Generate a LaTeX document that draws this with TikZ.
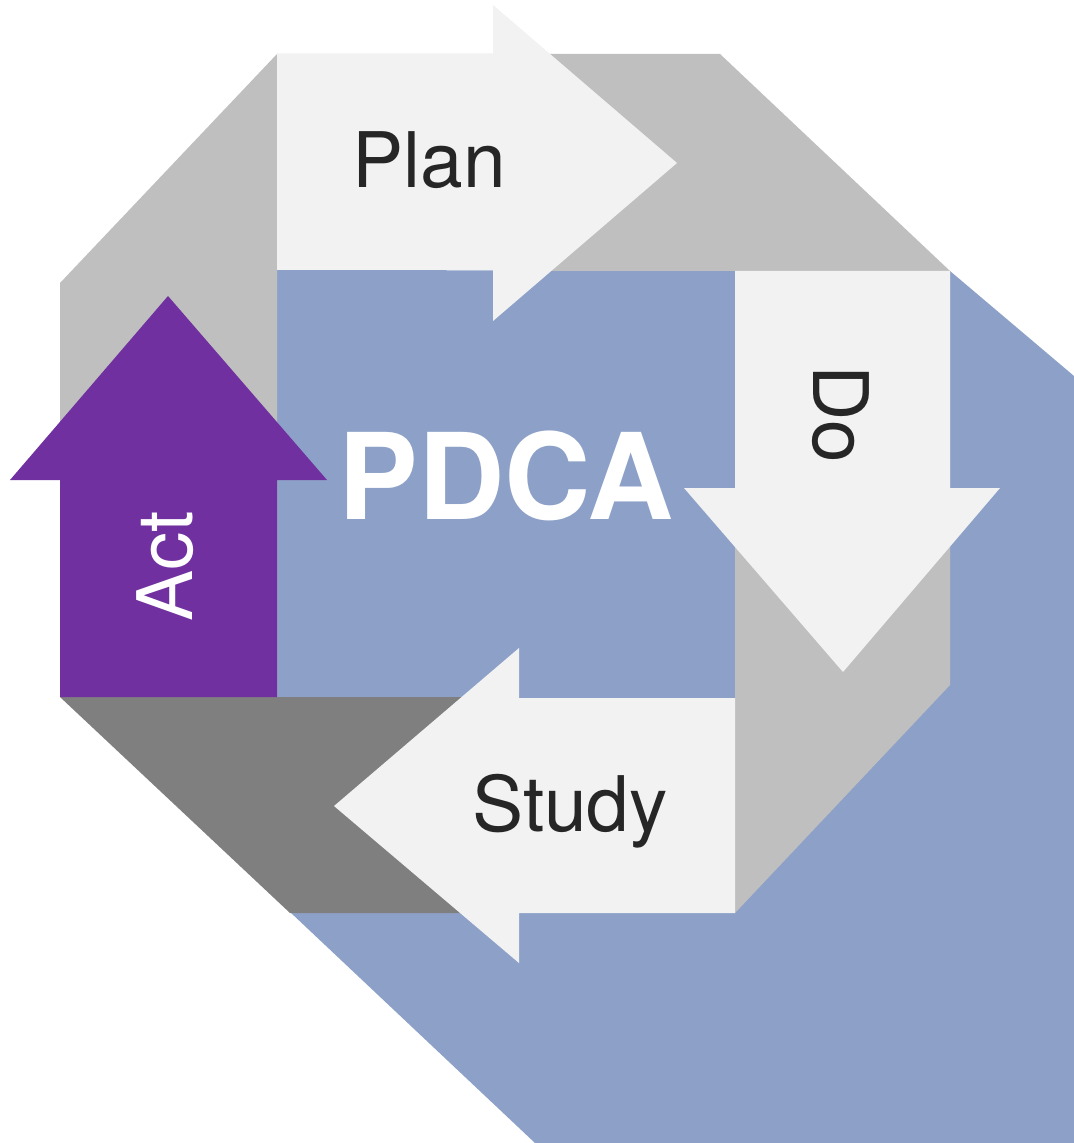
\documentclass[tikz,border=0pt]{standalone}
\usepackage{fontspec}
\setmainfont{TeX Gyre Heros}

\definecolor{pdcablue}{HTML}{8DA1C8}
\definecolor{ringgray}{HTML}{BFBFBF}
\definecolor{ringdark}{HTML}{7F7F7F}
\definecolor{arrowfill}{HTML}{F2F2F2}
\definecolor{actpurple}{HTML}{7030A0}
\definecolor{labeltext}{HTML}{262626}

\begin{document}
\begin{tikzpicture}[x=0.01cm, y=-0.01cm,
		ring/.style={fill=ringgray},
		bigarrow/.style={fill=arrowfill},
		steplabel/.style={text=labeltext, font=\fontsize{21.8}{26}\selectfont, anchor=base, inner sep=0pt}]
		
		\useasboundingbox (0,0) rectangle (1074,1143);
		
		% Blue back plate
		\fill[pdcablue] (277,270) -- (950,271) -- (1074,376) -- (1074,1143) -- (535,1143)
			-- (290,912) -- (290,697) -- (277,697) -- cycle;
		
		% Ring: left, top, right, bottom
		\fill[ring] (60,283) -- (277,54) -- (277,697) -- (60,697) -- cycle;
		\fill[ring] (277,54) -- (720,54) -- (950,271) -- (493,271) -- (493,270) -- (277,270) -- cycle;
		\fill[ring] (735,271) -- (950,271) -- (950,685) -- (735,913) -- cycle;
		\fill[ringdark] (60,697) -- (519,697) -- (519,913) -- (290,913) -- cycle;
		
		% Plan
		\fill[bigarrow] (277,54) -- (493,54) -- (493,5) -- (677,163) -- (493,321) -- (493,270) -- (277,270) -- cycle;
		\node[steplabel] (plan) at (429,188) {Plan};
		
		% Do
		\fill[bigarrow] (735,271) -- (950,271) -- (950,488) -- (1000,488) -- (843,672) -- (684,488) -- (735,488) -- cycle;
		\node[steplabel, rotate=-90] (do) at (813,414) {Do};
		
		% Study
		\fill[bigarrow] (735,698) -- (519,698) -- (519,648) -- (334,806) -- (519,963) -- (519,913) -- (735,913) -- cycle;
		\node[steplabel] (study) at (570,831) {Study};
		
		% Act
		\fill[actpurple] (60,697) -- (60,480) -- (10,480) -- (168,296) -- (327,480) -- (277,480) -- (277,697) -- cycle;
		\node[steplabel, text=white, rotate=90] (act) at (192,566) {Act};
		
		% Centre title
		\node[anchor=base, inner sep=0pt, text=white, font=\fontsize{34}{40}\selectfont\bfseries] (pdca) at (506,519) {PDCA};
		
	\end{tikzpicture}
\end{document}
